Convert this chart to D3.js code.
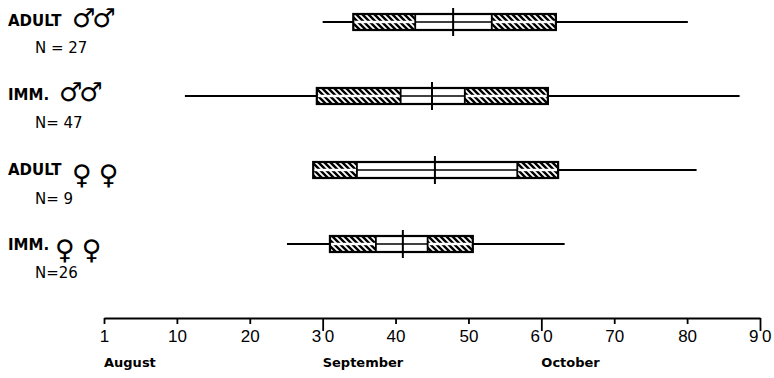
<!DOCTYPE html>
<html><head><meta charset="utf-8">
<script src="https://cdn.jsdelivr.net/npm/d3@7"></script>
<style>body{margin:0;background:#fff}svg{display:block}</style>
</head><body><div id="chart"></div>
<script>
const groups = ["ADULT", "IMM.", "ADULT", "IMM."];
const symbols = ["♂♂", "♂♂", "♀♀", "♀♀"];
const nLabels = ["N = 27", "N= 47", "N= 9", "N=26"];
const rangeMin = [30.0, 11.1, 28.7, 25.1];
const boxLow = [34.2, 29.2, 28.7, 31.0];
const innerLow = [42.7, 40.7, 34.7, 37.3];
const medians = [47.9, 45.0, 45.4, 41.0];
const innerHigh = [53.2, 49.5, 56.7, 44.4];
const boxHigh = [62.0, 60.9, 62.3, 50.6];
const rangeMax = [80.1, 87.2, 81.3, 63.2];
const tickValues = [0, 10, 20, 30, 40, 50, 60, 70, 80, 90];
const tickLabels = ["1", "10", "20", "30", "40", "50", "60", "70", "80", "90"];
const months = ["August", "September", "October"];
const monthStarts = [0, 30, 60];

const W = 774, H = 378;
const svg = d3.select("#chart").append("svg").attr("width", W).attr("height", H);
const defs = svg.append("defs");
const pat = defs.append("pattern").attr("id", "hatch").attr("patternUnits", "userSpaceOnUse")
  .attr("width", 6).attr("height", 6);
pat.append("path").attr("d", "M0,0L6,6M-3,3L3,9M3,-3L9,3")
  .attr("stroke", "#000").attr("stroke-width", 2.4);

const x = d3.scaleLinear().domain([0, 90]).range([104, 760]);
const y = d3.scaleLinear().domain([0, 3]).range([22, 244]);
const half = 8;
const rows = d3.range(groups.length);

const g = svg.append("g");
rows.forEach(i => {
  const cy = y(i);
  const r = g.append("g");
  r.append("line").attr("x1", x(rangeMin[i])).attr("x2", x(boxLow[i])).attr("y1", cy).attr("y2", cy)
    .attr("stroke", "#000").attr("stroke-width", 2);
  r.append("line").attr("x1", x(boxHigh[i])).attr("x2", x(rangeMax[i])).attr("y1", cy).attr("y2", cy)
    .attr("stroke", "#000").attr("stroke-width", 2);
  [[boxLow[i], innerLow[i]], [innerHigh[i], boxHigh[i]]].forEach(([a, b]) => {
    r.append("rect").attr("x", x(a)).attr("width", x(b) - x(a)).attr("y", cy - half).attr("height", half - 1.2)
      .attr("fill", "url(#hatch)");
    r.append("rect").attr("x", x(a)).attr("width", x(b) - x(a)).attr("y", cy + 1.2).attr("height", half - 1.2)
      .attr("fill", "url(#hatch)");
  });
  r.append("line").attr("x1", x(innerLow[i])).attr("x2", x(innerHigh[i])).attr("y1", cy).attr("y2", cy)
    .attr("stroke", "#000").attr("stroke-width", 1.6);
  r.append("rect").attr("x", x(boxLow[i])).attr("width", x(boxHigh[i]) - x(boxLow[i]))
    .attr("y", cy - half).attr("height", 2 * half).attr("fill", "none").attr("stroke", "#000").attr("stroke-width", 2.2);
  [innerLow[i], innerHigh[i]].forEach(v => {
    r.append("line").attr("x1", x(v)).attr("x2", x(v)).attr("y1", cy - half).attr("y2", cy + half)
      .attr("stroke", "#000").attr("stroke-width", 1.8);
  });
  r.append("line").attr("x1", x(medians[i])).attr("x2", x(medians[i])).attr("y1", cy - 14).attr("y2", cy + 14)
    .attr("stroke", "#000").attr("stroke-width", 2);
});

// left labels
const lab = svg.append("g").attr("font-family", "'DejaVu Sans', sans-serif").attr("fill", "#000");
const labBase = [26, 100, 175, 250];
const nBase = [53, 128, 204, 278];
const symX = [72, 59, 72, 55];
rows.forEach(i => {
  lab.append("text").attr("x", 8).attr("y", labBase[i]).attr("font-size", 15).attr("font-weight", "bold")
    .text(groups[i]);
  lab.append("text").attr("x", 35).attr("y", nBase[i]).attr("font-size", 15)
    .text(nLabels[i]);
  const isF = symbols[i].startsWith("♀");
  lab.append("text").attr("x", symX[i]).attr("y", labBase[i] + (isF ? 9 : 1))
    .attr("font-size", isF ? 27 : 26)
    .attr("font-weight", "bold")
    .attr("letter-spacing", isF ? 7 : -3)
    .text(symbols[i]);
});

// axis
const axisY = 318;
const axis = d3.axisBottom(x).tickValues(tickValues).tickFormat((d, i) => tickLabels[i])
  .tickSize(6).tickSizeOuter(0).tickPadding(4);
const ax = svg.append("g").attr("transform", `translate(0,${axisY})`).call(axis);
ax.select(".domain").attr("stroke-width", 2).attr("stroke", "#000");
ax.selectAll(".tick line").attr("stroke", "#000").attr("stroke-width", 1.8)
  .attr("y2", d => (d % 30 === 0 && d > 0) ? 13 : 6);
ax.selectAll(".tick text").attr("font-family", "'Liberation Sans', Arial, sans-serif").attr("font-size", 17)
  .attr("fill", "#000").attr("y", 24).attr("dy", 0)
  .attr("letter-spacing", d => (d % 30 === 0 && d > 0) ? 3.5 : 0)
  .attr("dx", d => (d % 30 === 0 && d > 0) ? 1.5 : 0);

// month labels
svg.append("g").selectAll("text").data(months).join("text")
  .attr("x", (d, i) => x(monthStarts[i]))
  .attr("y", 367)
  .attr("font-family", "'DejaVu Sans', sans-serif").attr("font-size", 13).attr("font-weight", "bold")
  .attr("fill", "#000")
  .text(d => d);
</script></body></html>
